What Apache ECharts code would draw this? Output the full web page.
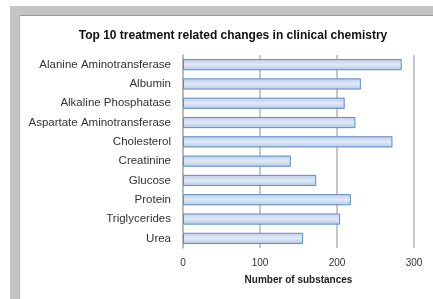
<!DOCTYPE html>
<html lang="en">
<head>
    <meta charset="UTF-8">
    <title>Clinical chemistry</title>
    <script src="https://cdn.jsdelivr.net/npm/echarts@6/dist/echarts.min.js"></script>
    <style>
        body { margin: 0; background: #fff; }
    </style>
</head>
<body>
    <div id="main" style="width: 433px; height: 299px;"></div>

    <script>
        // data
        var categories = [
            'Alanine Aminotransferase',
            'Albumin',
            'Alkaline Phosphatase',
            'Aspartate Aminotransferase',
            'Cholesterol',
            'Creatinine',
            'Glucose',
            'Protein',
            'Triglycerides',
            'Urea'
        ];
        var substances = [284, 231, 210, 224, 272, 140, 173, 218, 204, 156];
        var xTicks = [0, 100, 200, 300];

        var mycharts = echarts.init(document.getElementById('main'));

        var font = 'Liberation Sans';

        var option = {
            animation: false,
            title: {
                text: 'Top 10 treatment related changes in clinical chemistry',
                left: 228,
                top: 25,
                textAlign: 'center',
                textStyle: { fontFamily: font, fontSize: 12, fontWeight: 'bold', color: '#111' }
            },
            // grey frame along the top and left edge
            graphic: [
                { type: 'rect', shape: { x: 10, y: 6, width: 423, height: 10 }, style: { fill: '#c4c4c4' } },
                { type: 'rect', shape: { x: 10, y: 6, width: 10, height: 293 }, style: { fill: '#c4c4c4' } },
                { type: 'rect', shape: { x: 19, y: 15, width: 414, height: 1 }, style: { fill: '#9a9a9a' } },
                { type: 'rect', shape: { x: 19, y: 15, width: 1, height: 284 }, style: { fill: '#b0b0b0' } }
            ],
            grid: { left: 183, right: 19, top: 55, bottom: 51 },
            xAxis: {
                type: 'value',
                min: xTicks[0],
                max: xTicks[xTicks.length - 1],
                interval: 100,
                name: 'Number of substances',
                nameLocation: 'middle',
                nameGap: 27,
                nameTextStyle: { fontFamily: font, fontSize: 10, fontWeight: 'bold', color: '#222' },
                axisLine: { show: false },
                axisTick: { show: false },
                axisLabel: { fontFamily: font, fontSize: 10, color: '#333', margin: 10 },
                splitLine: { lineStyle: { color: '#b4b4b4', width: 1.5 } }
            },
            yAxis: {
                type: 'category',
                data: categories,
                inverse: true,
                axisLine: { lineStyle: { color: '#b4b4b4', width: 1.5 } },
                axisTick: { length: 3, lineStyle: { color: '#888' } },
                axisLabel: { fontFamily: font, fontSize: 11.5, color: '#333', margin: 12 }
            },
            series: [{
                type: 'bar',
                data: substances,
                barWidth: '58%',
                itemStyle: {
                    color: new echarts.graphic.LinearGradient(0, 0, 0, 1, [
                        { offset: 0, color: '#bccfeb' },
                        { offset: 0.5, color: '#e0e9f7' },
                        { offset: 1, color: '#b3c8e7' }
                    ]),
                    borderColor: '#5f8bc8',
                    borderWidth: 1
                }
            }]
        };

        mycharts.setOption(option);
    </script>
</body>
</html>
